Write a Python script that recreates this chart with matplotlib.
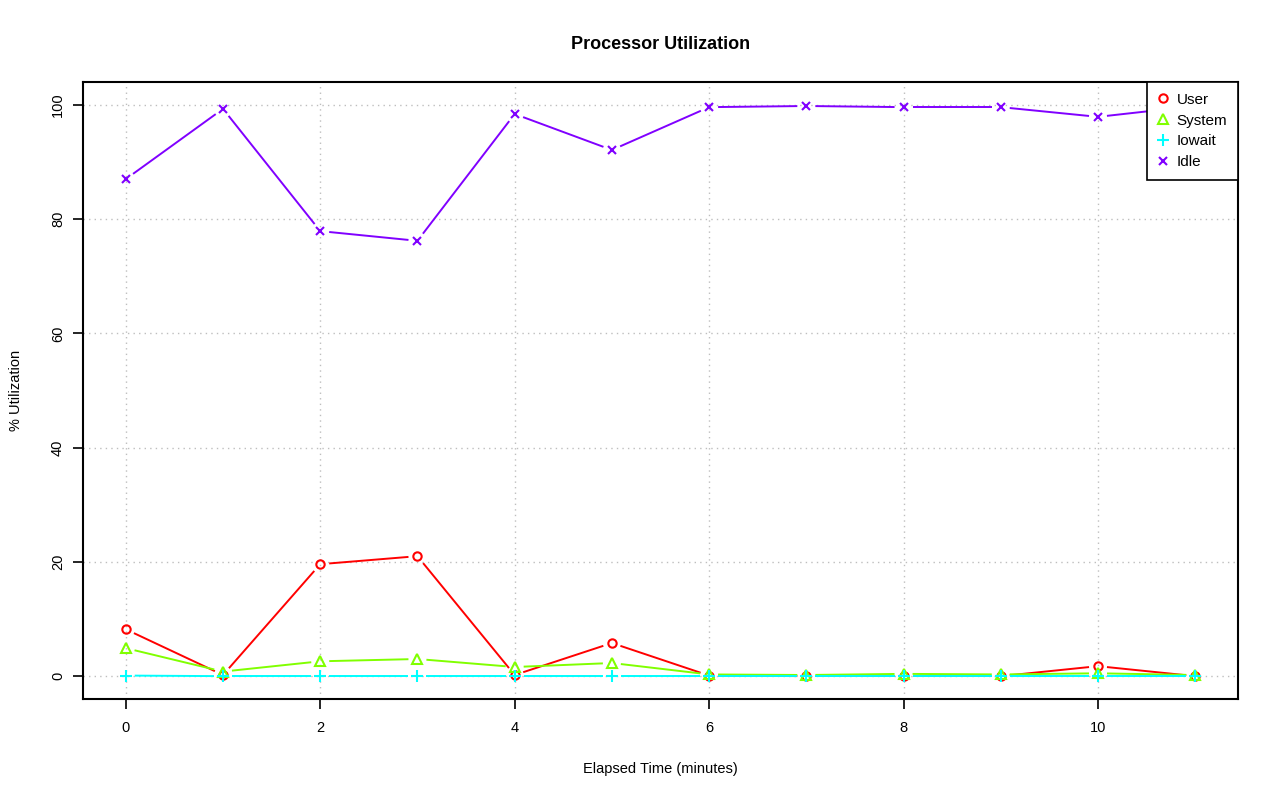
import numpy as np
import matplotlib
matplotlib.use("Agg")
import matplotlib.pyplot as plt

minutes = list(range(12))
user = [8.2, 0.2, 19.6, 21.0, 0.2, 5.8, 0.1, 0.0, 0.0, 0.0, 1.75, 0.0]
system = [4.9, 0.8, 2.6, 3.0, 1.6, 2.3, 0.3, 0.2, 0.4, 0.3, 0.5, 0.2]
iowait = [0.1, 0.0, 0.0, 0.0, 0.0, 0.0, 0.0, 0.0, 0.0, 0.0, 0.0, 0.0]
idle = [87.0, 99.3, 77.9, 76.2, 98.4, 92.1, 99.6, 99.8, 99.6, 99.6, 97.9, 99.8]

series_names = ["User", "System", "Iowait", "Idle"]
series_vals = [user, system, iowait, idle]
colors = ["#FF0000", "#80FF00", "#00FFFF", "#8000FF"]
markers = ["o", "^", "+", "x"]
msizes = [6, 7, 9, 6]

plt.rcParams["font.family"] = ["Liberation Sans", "DejaVu Sans"]

fig = plt.figure(figsize=(12.8, 8.01), dpi=100)
ax = fig.add_axes([83/1280, 1 - 699/801, (1238-83)/1280, (699-82)/801])
ax.set_xlim(-0.44, 11.44)
ax.set_ylim(-4, 104)

for s in ax.spines.values():
    s.set_linewidth(1.5)
    s.set_color("black")

ax.set_xticks([0, 2, 4, 6, 8, 10])
ax.set_yticks([0, 20, 40, 60, 80, 100])
ax.tick_params(axis="both", direction="out", length=7, width=1.2, labelsize=10.5, pad=9)
ax.tick_params(axis="y", pad=6)
for lab in ax.get_yticklabels():
    lab.set_rotation(90)
    lab.set_va("center")
ax.grid(True, color="#BEBEBE", linestyle=(0, (1, 3)), linewidth=1.0)
ax.set_axisbelow(True)

fig.canvas.draw()
gap = 9.0  # pixel gap around points, like R type="b"
inv = ax.transData.inverted()
for name, vals, c, m, ms in zip(series_names, series_vals, colors, markers, msizes):
    pts = ax.transData.transform(np.column_stack([minutes, vals]))
    for i in range(len(pts) - 1):
        p0, p1 = pts[i], pts[i + 1]
        d = p1 - p0
        L = np.hypot(*d)
        if L <= 2 * gap:
            continue
        u = d / L
        a = inv.transform(p0 + u * gap)
        b = inv.transform(p1 - u * gap)
        ax.plot([a[0], b[0]], [a[1], b[1]], color=c, linewidth=1.4, solid_capstyle="butt")
    ax.plot(minutes, vals, linestyle="none", marker=m, markersize=ms,
            markerfacecolor="none", markeredgecolor=c, markeredgewidth=1.5, label=name)

leg = ax.legend(loc="upper right", bbox_to_anchor=(1.0, 1.0), frameon=True, fancybox=False,
                edgecolor="black", framealpha=1, fontsize=11, borderaxespad=0,
                handlelength=0.7, handletextpad=0.55, labelspacing=0.45, borderpad=0.7)
leg.get_frame().set_linewidth(1.2)

ax.set_xlabel("Elapsed Time (minutes)", fontsize=10.5, labelpad=19)
ax.set_ylabel("% Utilization", fontsize=10.5, labelpad=20)
ax.set_title("Processor Utilization", fontsize=13, fontweight="bold", pad=24)

fig.savefig("out.png", dpi=100)
